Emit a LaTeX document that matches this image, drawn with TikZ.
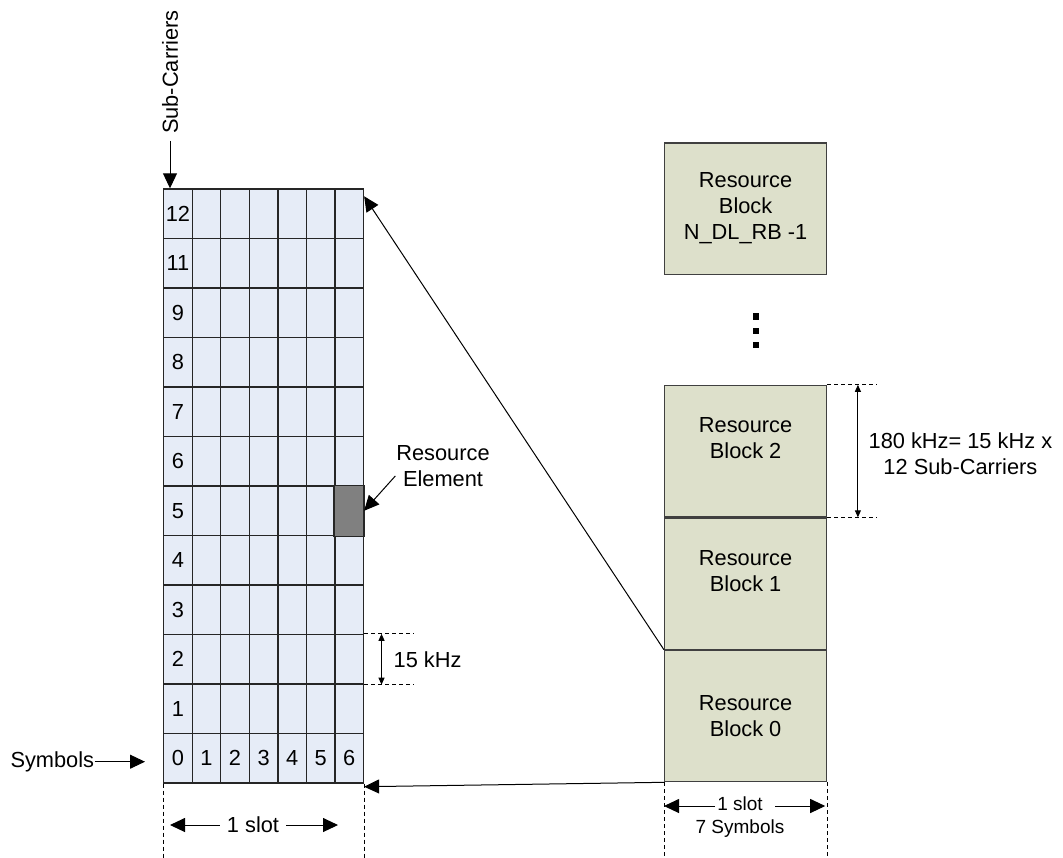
\documentclass[tikz,border=0pt]{standalone}
\usepackage{fontspec}
\setmainfont{Liberation Sans}
\usetikzlibrary{arrows.meta,positioning}
\definecolor{cellblue}{HTML}{E6ECF7}
\definecolor{rbgreen}{HTML}{DDE0CB}
\definecolor{regray}{HTML}{808080}
\begin{document}
\begin{tikzpicture}[x=0.5pt,y=-0.5pt,
    font=\fontsize{10.9}{13}\selectfont,
    cell/.style={draw=black!85,line width=0.7pt,fill=cellblue,anchor=north west,
        minimum width=14.27pt,minimum height=24.75pt,inner sep=0pt},
    rblock/.style={draw=black!75,line width=0.6pt,fill=rbgreen,align=center,
        minimum width=81pt,minimum height=65.65pt,inner sep=0pt},
    dim/.style={dashed,dash pattern=on 2pt off 1.5pt,line width=0.4pt},
    arr/.style={line width=0.5pt,-{Triangle[length=7.5pt,width=7pt]}},
    dimarr/.style={line width=0.5pt,{Triangle[length=3.5pt,width=3pt]}-{Triangle[length=3.5pt,width=3pt]}}]
    \useasboundingbox (0,0) rectangle (1063,857);

    % sub-carrier grid, row 0 at the bottom
    \foreach \lab [count=\row from 0] in {0,1,2,3,4,5,6,7,8,9,11,12} {
        \node[cell] (c\row-0) at (163,{782.3-49.5*(\row+1)}) {\lab};
        \foreach \col in {1,...,6}
            \node[cell] (c\row-\col) at ({163+28.53*\col},{782.3-49.5*(\row+1)}) {\ifnum\row=0 \col\fi};
    }
    \path[fill=regray,draw=black!85,line width=0.7pt] (c5-6.north west) rectangle (c5-6.south east);

    \node[rotate=90] (subc) at (170,72) {Sub-Carriers};
    \draw[arr] (subc.west) -- (subc.west |- c11-0.north);

    \node[anchor=east,inner sep=0pt] (sym) at (94.5,761.7) {Symbols};
    \coordinate (symtip) at (145,761.7);
    \draw[arr] (sym.east) -- (symtip);

    \node[align=center] (retxt) at (443,466) {Resource\\Element};
    \draw[arr] ([xshift=3pt,yshift=-5pt]retxt.west) -- (c5-6.east);

    \draw[dim] (c2-6.north east) -- ++(50,0);
    \draw[dim] (c2-6.south east) -- ++(50,0);
    \draw[dimarr] ([xshift=8.7pt]c2-6.north east) -- ([xshift=8.7pt]c2-6.south east)
        node[midway,right=2.5pt] {15 kHz};

    \draw[dim] (c0-0.south west) -- ++(0,75);
    \draw[dim] (c0-6.south east) -- ++(0,75);
    \node (slotl) at (253,825) {1 slot};
    \coordinate (slotla) at (170,825);
    \coordinate (slotlb) at (338,825);
    \draw[arr] (slotl.west) -- (slotla);
    \draw[arr] (slotl.east) -- (slotlb);

    % resource blocks
    \node[rblock,anchor=south west] (rb0) at (664,782.3) {Resource\\Block 0};
    \node[rblock,above=0pt of rb0] (rb1) {Resource\\Block 1\\~};
    \node[rblock,above=0pt of rb1] (rb2) {Resource\\Block 2\\~};
    \node[rblock,above=55pt of rb2] (rbn) {Resource\\Block\\N\_DL\_RB -1};
    \foreach \yy in {316.7,330.8,345} \fill (752.7,\yy-3.3) rectangle ++(6.7,6.7);

    \draw[dim] (rb2.north east) -- ++(50,0);
    \draw[dim] (rb2.south east) -- ++(50,0);
    \draw[dimarr] ([xshift=15.35pt]rb2.north east) -- ([xshift=15.35pt]rb2.south east);
    \node[align=center] (rbdim) at (960.4,454) {180 kHz= 15 kHz x\\12 Sub-Carriers};

    \draw[dim] (rb0.south west) -- ++(0,75);
    \draw[dim] (rb0.south east) -- ++(0,75);
    \node[align=center,font=\fontsize{9.5}{11.5}\selectfont] (slotr) at (740,817) {1 slot\\7 Symbols};
    \coordinate (slotra) at (715,806);
    \coordinate (slotrb) at (775,806);
    \draw[arr] (slotra) -- (rb0.south west |- slotra);
    \draw[arr] (slotrb) -- ([xshift=-1pt]rb0.south east |- slotrb);

    \draw[arr] (rb0.north west) -- ([yshift=-4pt]c11-6.north east);
    \draw[arr] (rb0.south west) -- ([yshift=-1.5pt]c0-6.south east);
\end{tikzpicture}
\end{document}
